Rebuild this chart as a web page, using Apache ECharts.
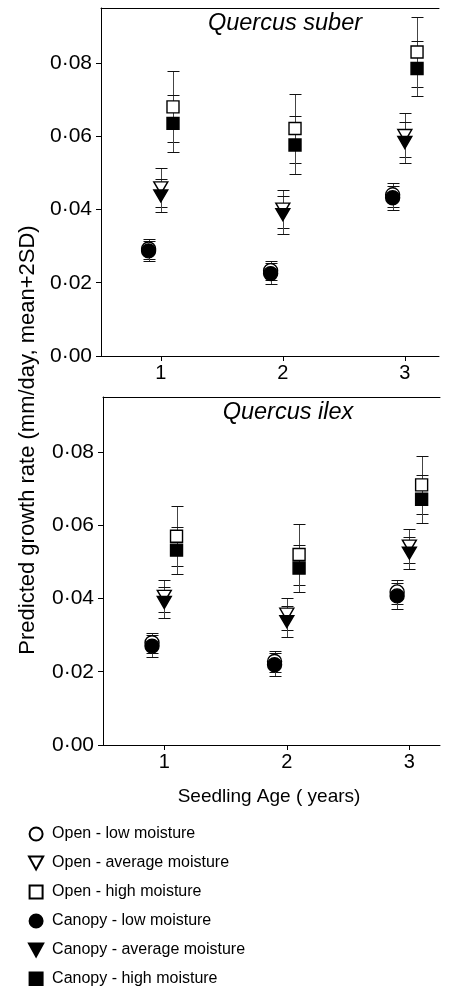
<!DOCTYPE html>
<html>
<head>
<meta charset="utf-8">
<style>
  html, body { margin: 0; padding: 0; background: #fff; }
  #chart { width: 462px; height: 986px; }
</style>
<script src="https://cdn.jsdelivr.net/npm/echarts@6/dist/echarts.min.js"></script>
</head>
<body>
<div id="chart"></div>
<script>
// ---------- data ----------
const years = [1, 2, 3];
const seriesNames = [
  'Open - low moisture',
  'Open - average moisture',
  'Open - high moisture',
  'Canopy - low moisture',
  'Canopy - average moisture',
  'Canopy - high moisture'
];
const yTicks = [0, 0.02, 0.04, 0.06, 0.08];
const panelTitles = ['Quercus suber', 'Quercus ilex'];

// Quercus suber: means and 2SD half-widths
const suberOpenLow = [0.0292, 0.0233, 0.0440];
const suberOpenLowErr = [0.0027, 0.0025, 0.0032];
const suberOpenAvg = [0.0459, 0.0401, 0.0602];
const suberOpenAvgErr = [0.0053, 0.0051, 0.0060];
const suberOpenHigh = [0.0680, 0.0621, 0.0830];
const suberOpenHighErr = [0.0097, 0.0094, 0.0095];
const suberCanLow = [0.0287, 0.0225, 0.0432];
const suberCanLowErr = [0.0027, 0.0028, 0.0033];
const suberCanAvg = [0.0437, 0.0386, 0.0583];
const suberCanAvgErr = [0.0045, 0.0052, 0.0055];
const suberCanHigh = [0.0635, 0.0576, 0.0785];
const suberCanHighErr = [0.0077, 0.0080, 0.0076];

// Quercus ilex
const ilexOpenLow = [0.0279, 0.0228, 0.0418];
const ilexOpenLowErr = [0.0027, 0.0028, 0.0033];
const ilexOpenAvg = [0.0406, 0.0357, 0.0543];
const ilexOpenAvgErr = [0.0044, 0.0044, 0.0046];
const ilexOpenHigh = [0.0570, 0.0520, 0.0710];
const ilexOpenHighErr = [0.0082, 0.0082, 0.0079];
const ilexCanLow = [0.0270, 0.0219, 0.0407];
const ilexCanLowErr = [0.0030, 0.0031, 0.0036];
const ilexCanAvg = [0.0389, 0.0337, 0.0524];
const ilexCanAvgErr = [0.0042, 0.0042, 0.0044];
const ilexCanHigh = [0.0532, 0.0483, 0.0671];
const ilexCanHighErr = [0.0064, 0.0064, 0.0065];

// ---------- build ----------
const panels = [
  { means: [suberOpenLow, suberOpenAvg, suberOpenHigh, suberCanLow, suberCanAvg, suberCanHigh],
    errs: [suberOpenLowErr, suberOpenAvgErr, suberOpenHighErr, suberCanLowErr, suberCanAvgErr, suberCanHighErr] },
  { means: [ilexOpenLow, ilexOpenAvg, ilexOpenHigh, ilexCanLow, ilexCanAvg, ilexCanHigh],
    errs: [ilexOpenLowErr, ilexOpenAvgErr, ilexOpenHighErr, ilexCanLowErr, ilexCanAvgErr, ilexCanHighErr] }
];

const moistOffset = [-0.1, 0, 0.1, -0.1, 0, 0.1];
const downTri = 'path://M0,0 L12,0 L6,11 Z';
const square = 'path://M0,0 L10,0 L10,10 L0,10 Z';
const styles = [
  { symbol: 'circle', size: 14, fill: '#fff' },
  { symbol: downTri, size: [14, 12], fill: '#fff' },
  { symbol: square, size: 12, fill: '#fff' },
  { symbol: 'circle', size: 14, fill: '#000' },
  { symbol: downTri, size: [14, 12], fill: '#000' },
  { symbol: square, size: 12, fill: '#000' }
];

const FONT = '"Liberation Sans", Arial, sans-serif';

const grids = [
  { left: 101, top: 8, width: 338, height: 348 },
  { left: 103, top: 397, width: 337, height: 348 }
];
const xRanges = [[0.51, 3.28], [0.5, 3.25]];

const xAxes = [];
const yAxes = [];
grids.forEach((g, i) => {
  xAxes.push({
    type: 'value', gridIndex: i, min: xRanges[i][0], max: xRanges[i][1],
    position: 'bottom',
    splitLine: { show: false },
    axisLine: { show: true, onZero: false, lineStyle: { color: '#000', width: 1 } },
    axisTick: { show: true, length: 5, lineStyle: { color: '#000' }, customValues: years },
    axisLabel: { show: true, color: '#000', fontSize: 20, fontFamily: FONT, margin: 7, customValues: years,
                 formatter: v => String(v) }
  });
});
grids.forEach((g, i) => {
  xAxes.push({
    type: 'value', gridIndex: i, min: xRanges[i][0], max: xRanges[i][1],
    position: 'top',
    splitLine: { show: false },
    axisLine: { show: true, onZero: false, lineStyle: { color: '#000', width: 1 } },
    axisTick: { show: false },
    axisLabel: { show: false }
  });
  yAxes.push({
    type: 'value', gridIndex: i, min: 0, max: 0.095,
    splitLine: { show: false },
    axisLine: { show: true, onZero: false, lineStyle: { color: '#000', width: 1 } },
    axisTick: { show: true, length: 5, lineStyle: { color: '#000' }, customValues: yTicks },
    axisLabel: { show: true, color: '#000', fontSize: 21, fontFamily: FONT, margin: 9, customValues: yTicks,
                 formatter: v => v.toFixed(2).replace('.', '\u00B7') }
  });
});

const series = [];
panels.forEach((p, pi) => {
  const barData = [];
  p.means.forEach((m, si) => {
    m.forEach((v, k) => {
      const x = years[k] + moistOffset[si];
      barData.push([x, v - p.errs[si][k], v + p.errs[si][k]]);
    });
  });
  series.push({
    type: 'custom', name: 'err' + pi, xAxisIndex: pi, yAxisIndex: pi, z: 1,
    data: barData, silent: true,
    renderItem: (params, api) => {
      const x = api.value(0);
      const lo = api.coord([x, api.value(1)]);
      const hi = api.coord([x, api.value(2)]);
      const cx = Math.round(lo[0]) + 0.5;
      const yl = Math.round(lo[1]) + 0.5;
      const yh = Math.round(hi[1]) + 0.5;
      const w = 6;
      const st = { stroke: '#111', lineWidth: 1 };
      return { type: 'group', children: [
        { type: 'line', shape: { x1: cx, y1: yl, x2: cx, y2: yh }, style: { stroke: '#444', lineWidth: 1 } },
        { type: 'line', shape: { x1: cx - w, y1: yl, x2: cx + w, y2: yl }, style: st },
        { type: 'line', shape: { x1: cx - w, y1: yh, x2: cx + w, y2: yh }, style: st }
      ]};
    }
  });
  p.means.forEach((m, si) => {
    const s = styles[si];
    series.push({
      type: 'scatter', name: seriesNames[si], xAxisIndex: pi, yAxisIndex: pi, z: 2 + si,
      symbol: s.symbol, symbolSize: s.size,
      itemStyle: { color: s.fill, borderColor: '#000', borderWidth: 1.4, opacity: 1 },
      emphasis: { disabled: true },
      data: m.map((v, k) => [years[k] + moistOffset[si], v])
    });
  });
});

const titleStyle = { fontFamily: FONT, fontStyle: 'italic', fontSize: 23.5, fill: '#000',
                     align: 'center', verticalAlign: 'middle' };

const option = {
  animation: false,
  backgroundColor: '#fff',
  grid: grids,
  xAxis: xAxes,
  yAxis: yAxes,
  legend: {
    orient: 'vertical', left: 28, top: 826, padding: 0, height: 170,
    itemWidth: 22, itemHeight: 13, itemGap: 13,
    data: seriesNames, selectedMode: false,
    textStyle: { fontFamily: FONT, fontSize: 16, color: '#000' }
  },
  graphic: [
    { type: 'text', x: 285, y: 23, style: Object.assign({ text: panelTitles[0] }, titleStyle) },
    { type: 'text', x: 288, y: 412, style: Object.assign({ text: panelTitles[1] }, titleStyle) },
    { type: 'text', x: 28, y: 440, rotation: Math.PI / 2,
      style: { text: 'Predicted growth rate (mm/day, mean+2SD)', fontFamily: FONT, fontSize: 22, fill: '#000',
               align: 'center', verticalAlign: 'middle' } },
    { type: 'text', x: 269, y: 797,
      style: { text: 'Seedling Age ( years)', fontFamily: FONT, fontSize: 19, fill: '#000',
               align: 'center', verticalAlign: 'middle' } }
  ],
  series: series
};

const chart = echarts.init(document.getElementById('chart'), null, { renderer: 'canvas' });
chart.setOption(option);
</script>
</body>
</html>
